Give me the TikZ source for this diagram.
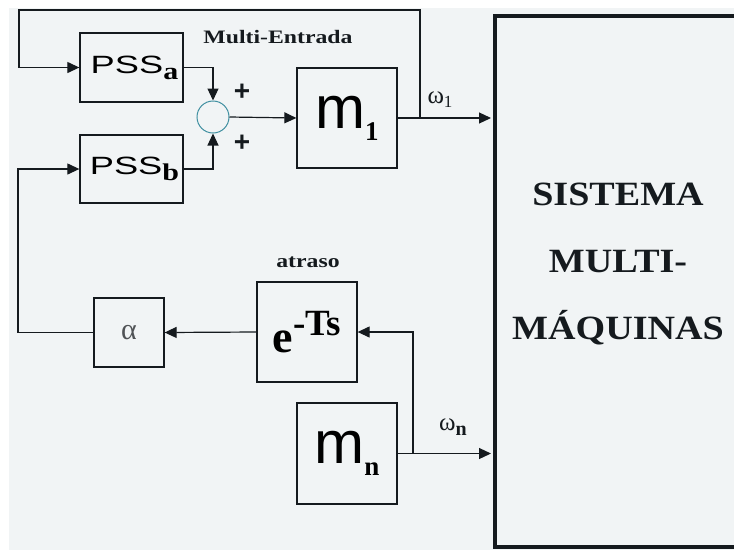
\documentclass[tikz,border=0pt]{standalone}
\usepackage{fontspec}
\setmainfont{Liberation Serif}
\setsansfont{Liberation Sans}
\newfontfamily\widerm[FakeStretch=1.25]{Liberation Serif}
\newfontfamily\sysrm[FakeStretch=1.12]{Liberation Serif}
\usetikzlibrary{arrows.meta}
\definecolor{bgpanel}{HTML}{F1F4F5}
\definecolor{ringcol}{HTML}{3F8FA0}
\definecolor{inkcol}{HTML}{151A1E}
\newcommand{\pssname}[1]{\hspace*{6pt}\scalebox{1.45}[1]{\sffamily\fontsize{25}{27}\selectfont PSS}\raisebox{-6pt}{\widerm\bfseries\fontsize{24}{26}\selectfont #1}}
\tikzset{
  block/.style={draw=inkcol, line width=1.3pt, inner sep=0pt},
  wire/.style={draw=inkcol, line width=1.2pt},
  arr/.style={-{Triangle[length=12pt,width=11pt]}},
  lbl/.style={inner sep=0pt, text=inkcol}
}
\begin{document}
\begin{tikzpicture}[x=1pt,y=-1pt]
        \fill[white] (0,0) rectangle (734,550);
        \fill[bgpanel] (9,8) rectangle (734,550);
        \useasboundingbox (0,0) rectangle (734,550);

        % blocos
        \node[block,minimum width=103pt,minimum height=69pt] (pssa) at (131.5,67.5) {\pssname{a}};
        \node[block,minimum width=103pt,minimum height=68pt] (pssb) at (131.5,169) {\pssname{b}};
        \node[draw=ringcol,line width=1pt,circle,minimum size=32pt,inner sep=0pt] (soma) at (213,117) {};
        \node[block,minimum size=100pt] (m1) at (347,118)
            {\sffamily\fontsize{60}{62}\selectfont m\raisebox{-12pt}{\rmfamily\bfseries\fontsize{27}{28}\selectfont 1}};
        \node[block,minimum width=70pt,minimum height=69pt] (alfa) at (129,332.5)
            {\color{inkcol!75}\fontsize{30}{32}\selectfont α};
        \node[block,minimum size=100pt] (atr) at (307,332)
            {\rmfamily\bfseries\fontsize{46}{48}\selectfont e\raisebox{17pt}{\fontsize{37}{38}\selectfont -Ts}};
        \node[block,minimum width=100pt,minimum height=101pt] (mn) at (347,453.5)
            {\sffamily\fontsize{60}{62}\selectfont m\raisebox{-12pt}{\rmfamily\bfseries\fontsize{27}{28}\selectfont n}};
        \node[draw=inkcol,line width=4pt,minimum width=280pt,minimum height=531pt,inner sep=0pt] (sis) at (635,281.5) {};
        \node[lbl,align=center,font=\sysrm\bfseries\fontsize{34}{67}\selectfont] (sistxt) at (618,264)
            {SISTEMA\\MULTI-\\MÁQUINAS};

        % rotulos
        \node[lbl,font=\widerm\bfseries\fontsize{19}{21}\selectfont] (multi) at (278,37) {Multi-Entrada};
        \node[lbl,font=\widerm\bfseries\fontsize{19}{21}\selectfont] (atraso) at (308,262) {atraso};
        \node[lbl,font=\sffamily\bfseries\fontsize{28}{30}\selectfont] (maisa) at (242,92) {+};
        \node[lbl,font=\sffamily\bfseries\fontsize{28}{30}\selectfont] (maisb) at (242,143) {+};
        \node[lbl,font=\fontsize{25}{27}\selectfont] (w1) at (440,100) {ω\raisebox{-4pt}{\fontsize{17}{18}\selectfont 1}};
        \node[lbl,font=\fontsize{25}{27}\selectfont] (wn) at (453,427) {ω\raisebox{-5pt}{\bfseries\fontsize{20}{21}\selectfont n}};

        % ligacoes
        \coordinate (j1) at (420,118);
        \coordinate (topL) at (19,10);
        \coordinate (botL) at (18,169);
        \coordinate (j2) at (413,453.5);
        \draw[wire,arr] (pssa.east) -| (soma.north);
        \draw[wire,arr] (pssb.east) -| (soma.south);
        \draw[wire,arr] (soma.east) -- (m1.west);
        \draw[wire,arr,shorten >=2pt] (m1.east) -- (m1.east -| sis.west);
        \draw[wire,arr] (j1) |- (topL) |- (pssa.west);
        \draw[wire,arr,shorten >=2pt] (mn.east) -- (mn.east -| sis.west);
        \draw[wire,arr] (j2) |- (atr.east);
        \draw[wire,arr] (atr.west) -- (alfa.east);
        \draw[wire,arr] (alfa.west) -| (botL) -- (pssb.west);
\end{tikzpicture}
\end{document}
